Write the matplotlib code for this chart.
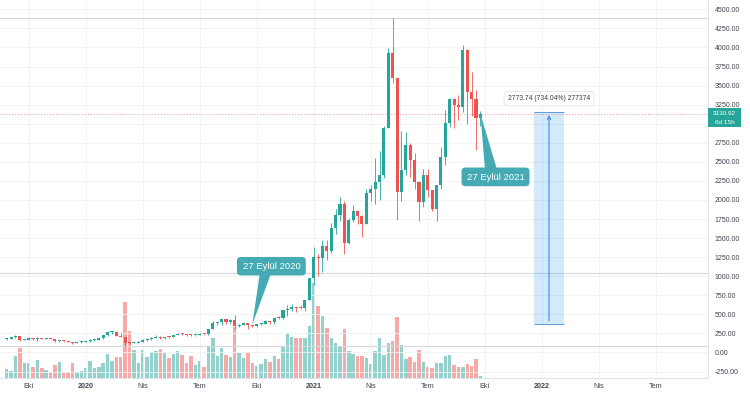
import matplotlib.pyplot as plt
from matplotlib.patches import FancyBboxPatch, Polygon, Rectangle
from matplotlib.transforms import blended_transform_factory
import numpy as np
import pandas as pd

plt.rcParams['font.family'] = ['Liberation Sans', 'DejaVu Sans']

# weekly ETH candles, first bar = week of 2019-09-02
start = pd.Timestamp('2019-09-02')

opens = [172, 178, 197, 211, 166, 170, 190, 172, 181, 180,
         187, 181, 150, 151, 146, 132, 128, 131, 143, 146,
         167, 168, 184, 223, 265, 273, 218, 200, 124, 122,
         125, 143, 158, 180, 194, 208, 188, 207, 203, 231,
         244, 236, 228, 225, 229, 240, 236, 311, 387, 395,
         433, 395, 428, 353, 365, 384, 355, 346, 370, 377,
         409, 396, 454, 448, 555, 575, 596, 588, 580, 685,
         975, 1250, 1235, 1390, 1330, 1627, 1798, 1942, 1430, 1732,
         1855, 1790, 1690, 2087, 2150, 2235, 2323, 2950, 3928, 3596,
         2100, 2388, 2716, 2520, 2240, 1972, 2323, 2125, 1885, 2190,
         2563, 3005, 3320, 3245, 3225, 3963, 3416, 3330, 3070]
closes = [178, 197, 211, 166, 170, 190, 172, 181, 180, 187,
          181, 150, 151, 146, 132, 128, 131, 143, 146, 167,
          168, 184, 223, 265, 273, 218, 200, 124, 122, 125,
          143, 158, 180, 194, 208, 188, 207, 203, 231, 244,
          236, 228, 225, 229, 240, 236, 311, 387, 395, 433,
          395, 428, 353, 365, 384, 355, 346, 370, 377, 409,
          396, 454, 448, 555, 575, 596, 588, 580, 685, 975,
          1250, 1235, 1390, 1330, 1627, 1798, 1942, 1430, 1732, 1855,
          1790, 1690, 2087, 2150, 2235, 2323, 2950, 3928, 3596, 2100,
          2388, 2716, 2520, 2240, 1972, 2323, 2125, 1885, 2190, 2563,
          3005, 3320, 3245, 3225, 3963, 3416, 3330, 3070, 3130.92]
highs = [185, 200, 224, 213, 183, 197, 192, 197, 192, 194,
         189, 182, 158, 152, 148, 135, 134, 145, 148, 174,
         175, 185, 230, 287, 288, 280, 253, 201, 138, 144,
         150, 178, 187, 198, 227, 216, 207, 215, 232, 253,
         250, 241, 248, 232, 249, 245, 313, 415, 405, 445,
         442, 440, 488, 377, 395, 385, 366, 376, 388, 420,
         417, 470, 478, 560, 621, 636, 602, 622, 690, 980,
         1383, 1290, 1475, 1475, 1700, 1876, 2040, 1990, 1760, 1940,
         1870, 1800, 2145, 2200, 2545, 2640, 2965, 3990, 4383, 3600,
         2910, 2890, 2745, 2620, 2250, 2410, 2410, 2130, 2200, 2700,
         3180, 3335, 3335, 3375, 4030, 3975, 3680, 3440, 3165]
lows = [168, 175, 195, 155, 165, 170, 170, 157, 177, 179,
        180, 140, 137, 143, 131, 116, 124, 126, 135, 143,
        155, 163, 182, 220, 243, 213, 197, 90, 108, 120,
        124, 142, 148, 166, 188, 180, 176, 196, 199, 226,
        226, 221, 218, 216, 228, 227, 232, 309, 363, 356,
        380, 378, 308, 333, 361, 310, 335, 331, 363, 367,
        370, 372, 440, 438, 480, 540, 530, 575, 550, 685,
        880, 1000, 1055, 1216, 1300, 1560, 1720, 1290, 1420, 1710,
        1690, 1513, 1680, 1990, 1950, 2000, 2290, 2940, 3530, 1732,
        1980, 2330, 2300, 2150, 1720, 1905, 2040, 1850, 1718, 2150,
        2460, 2960, 2950, 3055, 3155, 3000, 3100, 2650, 2970]
# volume, millions
volume = [2.1, 1.7, 5.5, 7.3, 3.6, 3.6, 2.6, 4.4, 2.5, 1.9,
          1.4, 3.1, 3.9, 1.5, 1.5, 3.7, 1.5, 1.6, 2.4, 4.2,
          2.4, 2.6, 3.7, 5.8, 4.1, 5.1, 5.1, 19.0, 11.6, 6.9,
          3.7, 7.0, 5.1, 6.4, 6.6, 7.1, 6.1, 4.8, 5.9, 6.7,
          5.6, 3.7, 5.4, 3.1, 4.1, 2.7, 7.6, 10.0, 5.5, 7.5,
          5.7, 5.1, 12.6, 6.1, 5.0, 6.1, 3.7, 3.0, 3.3, 4.6,
          3.9, 5.4, 4.6, 7.6, 11.2, 10.2, 10.0, 10.0, 9.8, 12.9,
          23.6, 18.0, 15.4, 12.5, 9.8, 8.7, 7.7, 12.1, 6.6, 5.9,
          5.4, 5.4, 4.9, 3.4, 6.6, 10.0, 5.6, 8.7, 9.1, 15.1,
          8.1, 4.6, 5.2, 3.8, 6.9, 4.0, 2.7, 2.5, 3.6, 3.6,
          5.4, 5.7, 3.1, 2.7, 2.6, 3.4, 2.9, 4.6, 0.5]

tick_months = ['2019-10', '2020-01', '2020-04', '2020-07', '2020-10', '2021-01',
               '2021-04', '2021-07', '2021-10', '2022-01', '2022-04', '2022-07']
tick_labels = ['Eki', '2020', 'Nis', 'Tem', 'Eki', '2021', 'Nis', 'Tem', 'Eki', '2022', 'Nis', 'Tem']
price_ticks = np.arange(-250, 4501, 250)

# drawings on the chart
hlines = [lows[27], 1041, highs[88]]
callout_2020 = '27 Eylül 2020'
callout_2021 = '27 Eylül 2021'
measure_low, measure_high = 377.87, 3151.61
measure_text = '2773.74 (734.04%) 277374'
measure_bars = (120.2, 127.1)
countdown = '6d 15h'

UP, DOWN = '#26a69a', '#ef5350'
UP_V, DOWN_V = '#93d2cc', '#f7a9a8'
CALLOUT = '#46aab5'
GRID = '#f0f1f3'
TXT = '#434651'

X_MIN, X_MAX = -1.53, 159.9
Y_MIN, Y_MAX = -328, 4622
PW, PH = 708, 377.5
PX_X = (X_MAX - X_MIN) / PW
PX_Y = (Y_MAX - Y_MIN) / PH
ASPECT = PX_Y / PX_X

o, h, l, c = map(np.array, (opens, highs, lows, closes))
x = np.arange(len(o))
up = c >= o

fig = plt.figure(figsize=(7.5, 3.93), dpi=100)
rect = [0, (393 - PH) / 393, PW / 750, PH / 393]
axv = fig.add_axes(rect)
ax = fig.add_axes(rect, sharex=axv)
ax.patch.set_alpha(0)

# volume
axv.bar(x, volume, width=0.78, color=np.where(up, UP_V, DOWN_V), linewidth=0)
axv.set_ylim(0, PH * 0.25)
axv.axis('off')

# grid + drawn lines
for p in price_ticks:
    ax.axhline(p, color=GRID, lw=0.6, zorder=0)
tick_pos = []
for m in tick_months:
    d = pd.Timestamp(m + '-01')
    mon = d + pd.Timedelta(days=(7 - d.weekday()) % 7)
    tick_pos.append((mon - start).days / 7)
for t in tick_pos:
    ax.axvline(t, color=GRID, lw=0.6, zorder=0)
for p in hlines:
    ax.axhline(p, color='#d6d8dd', lw=0.8, zorder=1)
ax.axhline(c[-1], color=DOWN, lw=0.7, ls=(0, (1, 2)), alpha=0.6, zorder=1)

# candles
cols = np.where(up, UP, DOWN)
ax.vlines(x, l, h, colors=cols, lw=0.6, zorder=3)
body = np.maximum(np.abs(c - o), PX_Y * 1.0)
ax.bar(x, body, bottom=np.minimum(o, c), width=0.7, color=cols, linewidth=0, zorder=4)


def callout(text, bx, by, bw, bh, base, tip):
    ax.add_patch(FancyBboxPatch((bx, by), bw, bh, boxstyle='round,pad=0,rounding_size=0.9',
                                mutation_aspect=ASPECT, fc=CALLOUT, ec='none', zorder=6))
    ax.add_patch(Polygon([base[0], base[1], tip], closed=True, fc=CALLOUT, ec='none', zorder=6))
    ax.text(bx + bw / 2, by + bh / 2 - PX_Y * 0.5, text, color='white', fontsize=6.8,
            ha='center', va='center', zorder=7)


b1_y, b1_h = 1010, 18.5 * PX_Y
callout(callout_2020, 52.5, b1_y, 15.7, b1_h,
        [(57.8, b1_y + 5 * PX_Y), (60.5, b1_y + 5 * PX_Y)], (56, h[56]))
b2_y, b2_h = 2180, 18.7 * PX_Y
callout(callout_2021, 103.7, b2_y, 15.5, b2_h,
        [(109.1, b2_y + b2_h - 5 * PX_Y), (112.0, b2_y + b2_h - 5 * PX_Y)], (x[-1], c[-1]))

# price range measure
mx0, mx1 = measure_bars
ax.add_patch(Rectangle((mx0, measure_low), mx1 - mx0, measure_high - measure_low,
                       fc='#2196f3', alpha=0.2, ec='none', zorder=2))
ax.hlines([measure_low, measure_high], mx0, mx1, color='#5b9be0', lw=0.7, zorder=3)
mxc = (mx0 + mx1) / 2
ax.annotate('', xy=(mxc, measure_high), xytext=(mxc, measure_low),
            arrowprops=dict(arrowstyle='->,head_length=0.25,head_width=0.12', color='#4a87e0', lw=0.8),
            zorder=3)
ax.text(mxc, measure_high + 13.5 * PX_Y, measure_text, fontsize=4.9, color='#3a3d45',
        ha='center', va='center', zorder=7,
        bbox=dict(boxstyle='round,pad=0.55,rounding_size=0.5', fc='white', ec='#e3e4e8', lw=0.6))

# last price label on the scale (hides the scale label it covers)
tr = blended_transform_factory(ax.transAxes, ax.transData)
box_lo, box_hi = c[-1] - 13 * PX_Y, c[-1] + 5.5 * PX_Y
ax.add_patch(Rectangle((1.0, box_lo), 33 / PW, box_hi - box_lo, transform=tr,
                       fc=UP, ec='none', clip_on=False, zorder=8))
ax.text(1.0 + 16.5 / PW, c[-1] + 0.5 * PX_Y, f'{c[-1]:.2f}', transform=tr, fontsize=4.6,
        color='white', ha='center', va='center', clip_on=False, zorder=9)
ax.text(1.0 + 16.5 / PW, c[-1] - 8.3 * PX_Y, countdown, transform=tr, fontsize=4.6,
        color='white', ha='center', va='center', clip_on=False, zorder=9)

ax.set_xlim(X_MIN, X_MAX)
ax.set_ylim(Y_MIN, Y_MAX)
ax.yaxis.tick_right()
ax.set_yticks(price_ticks)
ax.set_yticklabels(['' if box_lo - 3 * PX_Y < p < box_hi + 3 * PX_Y else f'{p:.2f}'
                    for p in price_ticks], fontsize=5, color=TXT)
ax.set_xticks(tick_pos)
ax.set_xticklabels(tick_labels, fontsize=5.2, color=TXT)
for lab in ax.get_xticklabels():
    if lab.get_text().isdigit():
        lab.set_fontweight('bold')
ax.tick_params(axis='both', length=0)
ax.tick_params(axis='y', pad=5)
ax.tick_params(axis='x', pad=4)
for s in ['top', 'left']:
    ax.spines[s].set_visible(False)
for s in ['right', 'bottom']:
    ax.spines[s].set_color('#e0e3eb')
    ax.spines[s].set_linewidth(0.8)

fig.savefig('out.png', dpi=100)
